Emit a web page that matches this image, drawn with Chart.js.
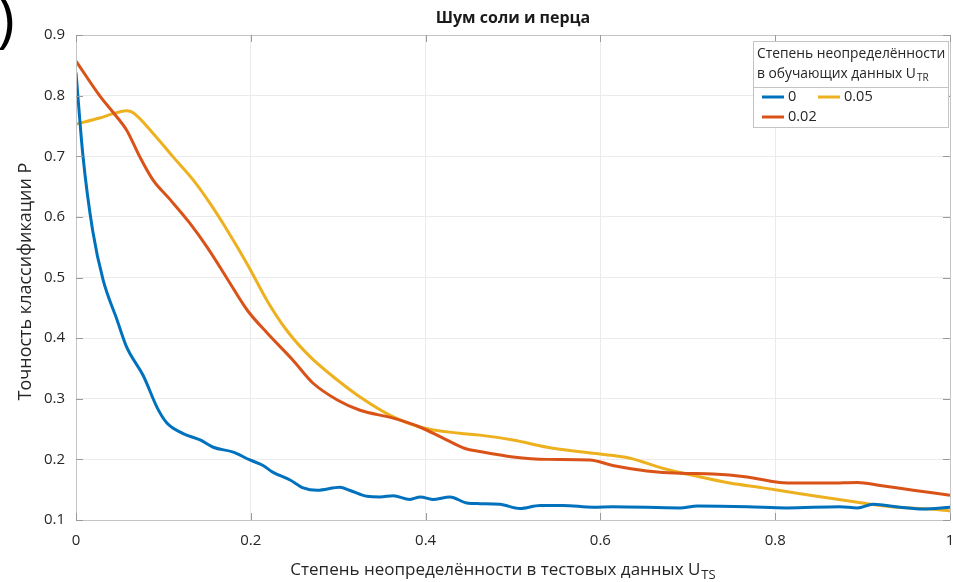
<!DOCTYPE html>
<html>
<head>
<meta charset="utf-8">
<script src="https://cdn.jsdelivr.net/npm/chart.js@4/dist/chart.umd.min.js"></script>
<style>
  html, body { margin: 0; padding: 0; background: #ffffff; }
  #wrap { width: 953px; height: 582px; }
</style>
</head>
<body>
<div id="wrap"><canvas id="c" width="953" height="582"></canvas></div>
<script>
// ---------- data ----------
const chartTitle = "Шум соли и перца";
const xAxisTitle = "Степень неопределённости в тестовых данных U";
const xAxisSub = "TS";
const yAxisTitle = "Точность классификации P";
const legendTitle1 = "Степень неопределённости";
const legendTitle2 = "в обучающих данных U";
const legendTitleSub = "TR";
const seriesLabels = ["0", "0.02", "0.05"];
const xTicks = [0, 0.2, 0.4, 0.6, 0.8, 1];
const yTicks = [0.1, 0.2, 0.3, 0.4, 0.5, 0.6, 0.7, 0.8, 0.9];

const blueX = [0, 0.008, 0.019, 0.031, 0.047, 0.058, 0.077, 0.093, 0.104, 0.122, 0.142, 0.157, 0.18, 0.199, 0.214, 0.225, 0.245, 0.26, 0.276, 0.302, 0.313, 0.333, 0.348, 0.363, 0.382, 0.394, 0.408, 0.428, 0.447, 0.462, 0.485, 0.508, 0.531, 0.557, 0.592, 0.614, 0.691, 0.711, 0.768, 0.813, 0.874, 0.894, 0.912, 0.943, 0.969, 1];
const blueY = [0.838, 0.70, 0.578, 0.496, 0.43, 0.385, 0.338, 0.285, 0.26, 0.243, 0.232, 0.22, 0.212, 0.199, 0.19, 0.179, 0.166, 0.153, 0.149, 0.154, 0.149, 0.139, 0.138, 0.14, 0.134, 0.138, 0.134, 0.138, 0.128, 0.127, 0.126, 0.119, 0.124, 0.124, 0.121, 0.122, 0.12, 0.123, 0.122, 0.12, 0.122, 0.12, 0.126, 0.121, 0.118, 0.121];

const redX = [0, 0.027, 0.045, 0.058, 0.073, 0.088, 0.108, 0.13, 0.15, 0.173, 0.196, 0.219, 0.248, 0.271, 0.299, 0.325, 0.363, 0.394, 0.42, 0.445, 0.462, 0.5, 0.539, 0.588, 0.614, 0.653, 0.691, 0.729, 0.768, 0.805, 0.828, 0.863, 0.894, 0.92, 0.958, 1];
const redY = [0.857, 0.80, 0.768, 0.743, 0.699, 0.661, 0.628, 0.59, 0.55, 0.498, 0.446, 0.408, 0.364, 0.326, 0.298, 0.281, 0.268, 0.253, 0.235, 0.218, 0.213, 0.204, 0.2, 0.199, 0.19, 0.181, 0.177, 0.176, 0.171, 0.162, 0.161, 0.161, 0.162, 0.157, 0.149, 0.141];

const yellowX = [0, 0.027, 0.042, 0.058, 0.065, 0.088, 0.111, 0.134, 0.153, 0.173, 0.196, 0.219, 0.241, 0.268, 0.299, 0.325, 0.363, 0.394, 0.439, 0.462, 0.5, 0.539, 0.592, 0.634, 0.672, 0.711, 0.748, 0.786, 0.825, 0.863, 0.9, 0.939, 0.977, 1];
const yellowY = [0.753, 0.763, 0.77, 0.775, 0.772, 0.738, 0.699, 0.661, 0.623, 0.578, 0.522, 0.461, 0.413, 0.369, 0.331, 0.303, 0.27, 0.253, 0.243, 0.24, 0.232, 0.22, 0.21, 0.202, 0.185, 0.172, 0.161, 0.153, 0.144, 0.136, 0.128, 0.121, 0.118, 0.115];

const colors = ["#0072BD", "#D95319", "#EDB120"];

function pts(xs, ys) { return xs.map((x, i) => ({ x: x, y: ys[i] })); }

const FONT = "'Open Sans', 'Noto Sans', sans-serif";

function drawSubText(ctx, text, sub, x, y, size, align) {
  ctx.save();
  ctx.font = size + "px " + FONT;
  const w1 = ctx.measureText(text).width;
  ctx.font = Math.round(size * 0.75) + "px " + FONT;
  const w2 = ctx.measureText(sub).width;
  const total = w1 + 1 + w2;
  let x0 = x;
  if (align === "center") x0 = x - total / 2;
  ctx.textAlign = "left";
  ctx.textBaseline = "alphabetic";
  ctx.font = size + "px " + FONT;
  ctx.fillText(text, x0, y);
  ctx.font = Math.round(size * 0.75) + "px " + FONT;
  ctx.fillText(sub, x0 + w1 + 1, y + size * 0.25);
  ctx.restore();
}

const decor = {
  id: "decor",
  afterDraw(chart) {
    const ctx = chart.ctx;
    const a = chart.chartArea;
    const xs = chart.scales.x, ys = chart.scales.y;
    ctx.save();
    // plot box
    ctx.strokeStyle = "#c4c4c4";
    ctx.lineWidth = 1;
    ctx.strokeRect(Math.round(a.left) + 0.5, Math.round(a.top) + 0.5, Math.round(a.right - a.left), Math.round(a.bottom - a.top));
    // inward tick marks
    ctx.strokeStyle = "#9a9a9a";
    ctx.beginPath();
    xTicks.forEach(v => {
      const px = Math.round(xs.getPixelForValue(v)) + 0.5;
      ctx.moveTo(px, a.top); ctx.lineTo(px, a.top + 7);
      ctx.moveTo(px, a.bottom); ctx.lineTo(px, a.bottom - 7);
    });
    yTicks.forEach(v => {
      const py = Math.round(ys.getPixelForValue(v)) + 0.5;
      ctx.moveTo(a.left, py); ctx.lineTo(a.left + 7, py);
      ctx.moveTo(a.right, py); ctx.lineTo(a.right - 7, py);
    });
    ctx.stroke();
    // big parenthesis at top-left
    ctx.fillStyle = "#000";
    ctx.font = "60px " + FONT;
    ctx.textBaseline = "alphabetic";
    ctx.textAlign = "left";
    ctx.fillText(")", -3, 40);
    // title
    ctx.fillStyle = "#1a1a1a";
    ctx.font = "bold 16px " + FONT;
    ctx.textAlign = "center";
    ctx.textBaseline = "middle";
    ctx.fillText(chartTitle, (a.left + a.right) / 2, 18);
    // x title
    ctx.fillStyle = "#262626";
    drawSubText(ctx, xAxisTitle, xAxisSub, 503, 575, 17, "center");
    // y title
    ctx.save();
    ctx.translate(26, (a.top + a.bottom) / 2 + 4);
    ctx.rotate(-Math.PI / 2);
    ctx.font = "18px " + FONT;
    ctx.textAlign = "center";
    ctx.textBaseline = "middle";
    ctx.fillText(yAxisTitle, 0, 0);
    ctx.restore();
    // legend
    const lx = 753, ly = 41, lw = 195, lh = 86;
    ctx.fillStyle = "#ffffff";
    ctx.fillRect(lx, ly, lw, lh);
    ctx.strokeStyle = "#c4c4c4";
    ctx.lineWidth = 1;
    ctx.strokeRect(lx + 0.5, ly + 0.5, lw, lh);
    ctx.beginPath();
    ctx.moveTo(lx, 87.5); ctx.lineTo(lx + lw, 87.5);
    ctx.stroke();
    ctx.fillStyle = "#262626";
    ctx.font = "13.8px " + FONT;
    ctx.textAlign = "left";
    ctx.textBaseline = "alphabetic";
    ctx.fillText(legendTitle1, 757, 58);
    drawSubText(ctx, legendTitle2, legendTitleSub, 757, 78, 13.8, "left");
    const items = [
      { c: colors[0], t: seriesLabels[0], x: 762, y: 97 },
      { c: colors[2], t: seriesLabels[2], x: 818, y: 97 },
      { c: colors[1], t: seriesLabels[1], x: 762, y: 117 }
    ];
    items.forEach(it => {
      ctx.strokeStyle = it.c;
      ctx.lineWidth = 3;
      ctx.beginPath();
      ctx.moveTo(it.x, it.y); ctx.lineTo(it.x + 22, it.y);
      ctx.stroke();
      ctx.fillStyle = "#262626";
      ctx.font = "14.5px " + FONT;
      ctx.textBaseline = "middle";
      ctx.fillText(it.t, it.x + 26, it.y);
    });
    ctx.restore();
  }
};

new Chart(document.getElementById("c"), {
  type: "line",
  data: {
    datasets: [
      { label: seriesLabels[0], data: pts(blueX, blueY), borderColor: colors[0] },
      { label: seriesLabels[1], data: pts(redX, redY), borderColor: colors[1] },
      { label: seriesLabels[2], data: pts(yellowX, yellowY), borderColor: colors[2] }
    ]
  },
  options: {
    responsive: false,
    devicePixelRatio: 1,
    animation: false,
    layout: { padding: { top: 35, right: 3, left: 0, bottom: 0 } },
    elements: {
      point: { radius: 0 },
      line: { borderWidth: 3, cubicInterpolationMode: "monotone", fill: false }
    },
    plugins: { legend: { display: false }, title: { display: false }, tooltip: { enabled: false } },
    scales: {
      x: {
        type: "linear", min: 0, max: 1,
        afterBuildTicks: s => { s.ticks = xTicks.map(v => ({ value: v })); },
        afterFit: s => { s.height = 62; s.paddingRight = 0; s.paddingLeft = 0; },
        grid: { color: "#ebebeb", drawTicks: false },
        border: { display: false },
        ticks: { padding: 12, color: "#262626", font: { family: FONT, size: 15 },
          callback: v => String(Number(v.toFixed(1))) }
      },
      y: {
        type: "linear", min: 0.1, max: 0.9,
        afterBuildTicks: s => { s.ticks = yTicks.map(v => ({ value: v })); },
        afterFit: s => { s.width = 76; },
        grid: { color: "#ebebeb", drawTicks: false },
        border: { display: false },
        ticks: { padding: 11, color: "#262626", font: { family: FONT, size: 15 },
          callback: v => String(Number(v.toFixed(1))) }
      }
    }
  },
  plugins: [decor]
});
</script>
</body>
</html>
